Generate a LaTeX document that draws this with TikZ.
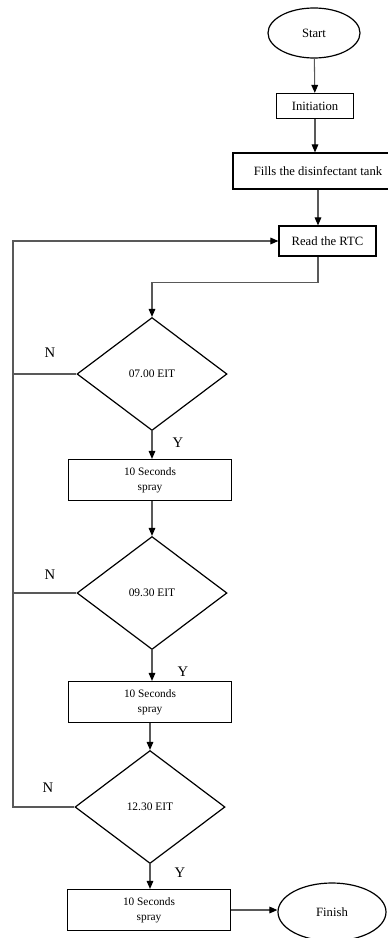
\documentclass[tikz,border=0pt]{standalone}
\usepackage{fontspec}
\setmainfont{Liberation Serif}
\usetikzlibrary{shapes.geometric,arrows.meta}

\begin{document}
\begin{tikzpicture}[x=0.75pt, y=-0.75pt, % pixel units, y downwards
  box/.style={draw, line width=0.9pt, rectangle, align=center, inner sep=1pt, font=\fontsize{9.5}{11}\selectfont},
  spraybox/.style={box, minimum width=122pt, minimum height=30.75pt, font=\fontsize{8.5}{11.25}\selectfont},
  oval/.style={draw, line width=0.9pt, ellipse, inner sep=1pt, font=\fontsize{9.5}{11}\selectfont},
  test/.style={draw, line width=0.9pt, diamond, minimum width=112.5pt, minimum height=84.75pt, inner sep=0pt, font=\fontsize{8.6}{10}\selectfont},
  yn/.style={font=\fontsize{11}{12}\selectfont, inner sep=0pt},
  link/.style={draw=black!65, line width=0.8pt},
  arr/.style={link, -{Triangle[length=6pt, width=5pt, color=black]}}]
  \useasboundingbox (0,0) rectangle (387,938); % picture frame
  % top part
  \node[oval, minimum width=69pt, minimum height=37.5pt] (start) at (314,33) {Start};
  \node[box, minimum width=57.75pt, minimum height=18.75pt] (init) at (315,106) {Initiation};
  \node[box, minimum width=127.5pt, minimum height=27pt] (fill) at (318,171) {Fills the disinfectant tank};
  \node[box, minimum width=72.75pt, minimum height=22.5pt] (read) at (327.5,241) {Read the RTC};
  % checks and sprays
  \node[test] (d1) at (152,374) {07.00 EIT};
  \node[spraybox] (s1) at (150,480) {10 Seconds\\spray};
  \node[test] (d2) at (152,593) {09.30 EIT};
  \node[spraybox] (s2) at (150,702) {10 Seconds\\spray};
  \node[test] (d3) at (150,807) {12.30 EIT};
  \node[spraybox] (s3) at (149,910) {10 Seconds\\spray};
  \node[oval, minimum width=81pt, minimum height=43.5pt] (finish) at (332,912) {Finish};
  % Y / N labels
  \node[yn] (n1) at (50,353) {N};
  \node[yn] (n2) at (50,575) {N};
  \node[yn] (n3) at (48,788) {N};
  \node[yn] (y1) at (178,443) {Y};
  \node[yn] (y2) at (183,672) {Y};
  \node[yn] (y3) at (180,873) {Y};
  % connectors
  \draw[arr] (start) -- (init);
  \draw[arr] (init.south) -- (init.south |- fill.north);
  \draw[arr] (fill.south) -- (fill.south |- read.north);
  \draw[arr] (read.south -| fill.south) -- ++(0,26) -| (d1.north);
  \draw[arr] (d1.south) -- (d1.south |- s1.north);
  \draw[arr] (s1.south -| d1.south) -- (d2.north);
  \draw[arr] (d2.south) -- (d2.south |- s2.north);
  \draw[arr] (s2.south -| d3.north) -- (d3.north);
  \draw[arr] (d3.south) -- (d3.south |- s3.north);
  \draw[arr] (s3.east) -- (s3.east -| finish.west);
  % loop back on the left
  \coordinate (lft) at (13,500);
  \draw[arr] (d3.west) -| (lft) |- (read.west);
  \draw[link] (d1.west) -- (d1.west -| lft);
  \draw[link] (d2.west) -- (d2.west -| lft);
\end{tikzpicture}
\end{document}
